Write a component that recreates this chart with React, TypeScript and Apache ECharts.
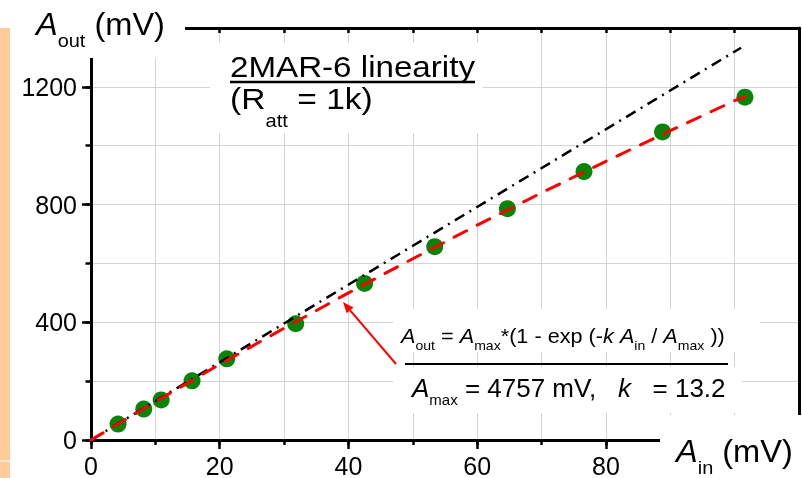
import React, { useEffect, useRef } from 'react';
import * as echarts from 'echarts';

// ---- data ----
const xIn = [4.2, 8.2, 10.9, 15.7, 21.1, 31.8, 42.5, 53.4, 64.7, 76.6, 88.8, 101.6];
const yOut = [54, 105, 136, 201, 276, 395, 532, 657, 786, 912, 1047, 1165];
// fitted saturation curve (red dashed), sampled points
const fitX = [0, 10, 20, 30, 40, 50, 60, 70, 80, 90, 100, 101.6];
const fitY = [0, 130, 257, 380, 500, 616, 730, 840, 947, 1051, 1153, 1166];
// ideal linear response (black dash-dot)
const linX = [0, 101];
const linY = [0, 1333];
const xTickLabels = [0, 20, 40, 60, 80];
const yTickLabels = [0, 400, 800, 1200];

const FONT = '"Liberation Sans", Arial, Helvetica, sans-serif';

function richLabel(x: number, baseline: number, F: number, Fs: number, drop: number, scaleX: number, text: string) {
  const d = drop + 0.3465 * (F - Fs);
  return {
    type: 'text',
    x,
    y: baseline - 0.3465 * F,
    scaleX,
    z: 12,
    style: {
      text,
      x: 0,
      y: 0,
      align: 'left',
      verticalAlign: 'middle',
      textAlign: 'left',
      textVerticalAlign: 'middle',
      lineHeight: Math.ceil(F * 1.2 + 2 * d + 4),
      fill: '#000',
      fontSize: F,
      fontFamily: FONT,
      rich: {
        n: { fontSize: F, fontFamily: FONT, fill: '#000' },
        i: { fontSize: F, fontFamily: FONT, fontStyle: 'italic', fill: '#000' },
        s: { fontSize: Fs, fontFamily: FONT, fill: '#000', padding: [2 * d, 0, 0, 0] },
      },
    },
  };
}

function whiteRect(x: number, y: number, w: number, h: number) {
  return { type: 'rect', z: 10, shape: { x, y, width: w, height: h }, style: { fill: '#fff' } };
}

export default function App() {
  const ref = useRef<HTMLDivElement>(null);
  useEffect(() => {
    if (!ref.current) return;
    const chart = echarts.init(ref.current, null, { renderer: 'svg' });
    const tickStyle = { color: '#000', width: 2.5 };
    const gridLine = { show: true, lineStyle: { color: '#d4d4d4', width: 1 } };
    const tipX = 343, tipY = 302, tailX = 396, tailY = 364;
    const len = Math.hypot(tailX - tipX, tailY - tipY);
    const ux = (tipX - tailX) / len, uy = (tipY - tailY) / len;
    const headL = 11, headW = 4.5;
    const bx = tipX - ux * headL, by = tipY - uy * headL;
    const px = -uy * headW, py = ux * headW;

    const option: any = {
      animation: false,
      grid: { left: 91, right: 2, top: 28, bottom: 38, show: false },
      xAxis: [
        {
          type: 'value', min: 0, max: 110, interval: 10, position: 'bottom',
          axisLine: { show: true, onZero: false, lineStyle: { color: '#000', width: 3 } },
          axisTick: { show: true, length: 5, lineStyle: tickStyle },
          axisLabel: {
            show: true, margin: 13, fontSize: 25, color: '#000', fontFamily: FONT,
            formatter: (v: number) => (xTickLabels.includes(v) ? String(v) : ''),
          },
          splitLine: gridLine,
        },
        {
          type: 'value', min: 0, max: 110, interval: 20, position: 'bottom',
          axisLine: { show: false, onZero: false },
          axisTick: { show: true, length: 9, lineStyle: tickStyle },
          axisLabel: { show: false },
          splitLine: { show: false },
        },
        {
          type: 'value', min: 0, max: 110, interval: 10, position: 'top',
          axisLine: { show: true, onZero: false, lineStyle: { color: '#000', width: 3 } },
          axisTick: { show: true, inside: true, length: 5, lineStyle: tickStyle },
          axisLabel: { show: false },
          splitLine: { show: false },
        },
      ],
      yAxis: [
        {
          type: 'value', min: 0, max: 1400, interval: 200, position: 'left',
          axisLine: { show: true, onZero: false, lineStyle: { color: '#000', width: 3 } },
          axisTick: { show: true, length: 5.5, lineStyle: tickStyle },
          axisLabel: {
            show: true, margin: 14, fontSize: 25, color: '#000', fontFamily: FONT,
            formatter: (v: number) => (yTickLabels.includes(v) ? String(v) : ''),
          },
          splitLine: gridLine,
        },
        {
          type: 'value', min: 0, max: 1400, interval: 400, position: 'left',
          axisLine: { show: false, onZero: false },
          axisTick: { show: true, length: 9, lineStyle: tickStyle },
          axisLabel: { show: false },
          splitLine: { show: false },
        },
        {
          type: 'value', min: 0, max: 1400, interval: 200, position: 'right',
          axisLine: { show: true, onZero: false, lineStyle: { color: '#000', width: 3 } },
          axisTick: { show: false },
          axisLabel: { show: false },
          splitLine: { show: false },
        },
      ],
      series: [
        {
          type: 'scatter', xAxisIndex: 0, yAxisIndex: 0, z: 2,
          symbol: 'circle', symbolSize: 17,
          itemStyle: { color: '#098409', opacity: 1 },
          data: xIn.map((x, i) => [x, yOut[i]]),
        },
        {
          type: 'line', xAxisIndex: 0, yAxisIndex: 0, z: 3, symbol: 'none',
          lineStyle: { color: '#000', width: 2.5, type: [11, 6, 2, 6] },
          data: linX.map((x, i) => [x, linY[i]]),
        },
        {
          type: 'line', xAxisIndex: 0, yAxisIndex: 0, z: 4, symbol: 'none',
          lineStyle: { color: '#ff0000', width: 3, type: [14, 12], cap: 'round' },
          data: fitX.map((x, i) => [x, fitY[i]]),
        },
      ],
      graphic: {
        elements: [
          // peach strip on the left edge
          { type: 'rect', z: 10, shape: { x: 0, y: 28, width: 10, height: 450 }, style: { fill: '#FFCC99' } },
          { type: 'rect', z: 11, shape: { x: 0, y: 460.5, width: 10, height: 1 }, style: { fill: '#fff' } },
          // label backgrounds
          whiteRect(12, 0, 173, 58),
          whiteRect(210, 43, 273, 90),
          whiteRect(393, 309, 367, 43),
          whiteRect(393, 367, 349, 46),
          whiteRect(660, 415, 142, 63),
          // axis titles
          richLabel(36, 35, 31, 19, 12, 1.05, '{i|A}{s|out}{n|\u00A0(mV)}'),
          richLabel(676, 462, 31, 19, 11.5, 1.05, '{i|A}{s|in}{n|\u00A0(mV)}'),
          // title
          {
            type: 'text', x: 230, y: 76.5 - 0.3465 * 30, scaleX: 1.105, z: 12,
            style: {
              text: '2MAR-6 linearity', x: 0, y: 0, align: 'left', verticalAlign: 'middle',
              textAlign: 'left', textVerticalAlign: 'middle', fill: '#000', fontSize: 30, fontFamily: FONT,
            },
          },
          { type: 'line', z: 12, shape: { x1: 230, y1: 82, x2: 475, y2: 82 }, style: { stroke: '#000', lineWidth: 2.5 } },
          richLabel(230, 109.3, 30, 18, 17.5, 1.12, '{n|(R}{s|att}{n|\u00A0=\u00A01k)}'),
          // fit annotation
          richLabel(401, 342.7, 20, 13, 7.3, 1.083,
            '{i|A}{s|out}{n|\u00A0=\u00A0}{i|A}{s|max}{n|*(1\u00A0-\u00A0exp\u00A0(-}{i|k}{n|\u00A0}{i|A}{s|in}{n|\u00A0/\u00A0}{i|A}{s|max}{n|\u00A0))}'),
          { type: 'line', z: 12, shape: { x1: 405, y1: 364, x2: 728, y2: 364 }, style: { stroke: '#000', lineWidth: 2 } },
          richLabel(412, 397, 26, 15, 8, 1.0,
            '{i|A}{s|max}{n|\u00A0=\u00A04757\u00A0mV,\u00A0\u00A0\u00A0}{i|k}{n|\u00A0\u00A0\u00A0=\u00A013.2}'),
          // arrow
          { type: 'line', z: 12, shape: { x1: tailX, y1: tailY, x2: bx, y2: by }, style: { stroke: '#ff0000', lineWidth: 2 } },
          {
            type: 'polygon', z: 12,
            shape: { points: [[tipX, tipY], [bx + px, by + py], [bx - px, by - py]] },
            style: { fill: '#ff0000' },
          },
        ],
      },
    };
    chart.setOption(option);
    return () => chart.dispose();
  }, []);
  return <div ref={ref} style={{ position: 'fixed', left: 0, top: 0, width: 802, height: 478 }} />;
}
